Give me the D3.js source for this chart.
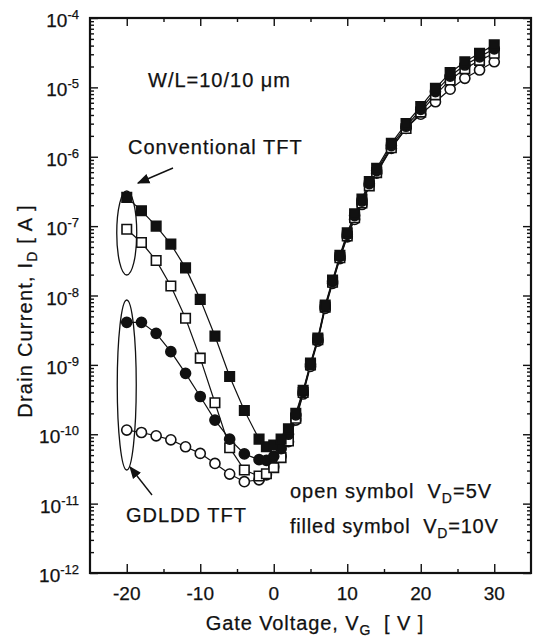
<!DOCTYPE html>
<html>
<head>
<meta charset="utf-8">
<script src="https://cdn.jsdelivr.net/npm/d3@7"></script>
<style>
  body { margin: 0; background: #fff; }
  text { font-family: "Liberation Sans", Arial, sans-serif; fill: #111; stroke: #111; stroke-width: 0.25px; }
</style>
</head>
<body>
<div id="chart"></div>
<script>
// gate voltage sweep (V)
const gateVoltage = [-20, -18, -16, -14, -12, -10, -8, -6, -4, -2, -1, 0, 1, 2, 3, 4, 5, 6, 7, 8, 9, 10, 11, 12, 13, 14, 16, 18, 20, 22, 24, 26, 28, 30];

// drain current (A)
const convVd10 = [2.6e-7, 1.67e-7, 1.0e-7, 5.5e-8, 2.5e-8, 8.8e-9, 2.6e-9, 6.8e-10, 2.2e-10, 8.5e-11, 6.6e-11, 7.0e-11, 8.5e-11, 1.2e-10, 2.0e-10, 4.3e-10, 1.06e-9, 2.44e-9, 7.3e-9, 1.67e-8, 3.8e-8, 8.0e-8, 1.5e-7, 2.46e-7, 4.4e-7, 6.8e-7, 1.56e-6, 3.0e-6, 5.3e-6, 9.7e-6, 1.63e-5, 2.34e-5, 3.1e-5, 4.1e-5];
const convVd5 = [9.0e-8, 5.8e-8, 3.2e-8, 1.37e-8, 4.7e-9, 1.25e-9, 2.85e-10, 6.4e-11, 3.05e-11, 2.5e-11, 2.7e-11, 3.3e-11, 4.6e-11, 8.0e-11, 1.7e-10, 4.0e-10, 1.0e-9, 2.3e-9, 6.8e-9, 1.55e-8, 3.5e-8, 7.2e-8, 1.32e-7, 2.15e-7, 3.8e-7, 5.9e-7, 1.35e-6, 2.55e-6, 4.4e-6, 7.8e-6, 1.28e-5, 1.85e-5, 2.45e-5, 3.1e-5];
const gdlddVd10 = [4.1e-9, 4.1e-9, 2.85e-9, 1.55e-9, 7.55e-10, 3.5e-10, 1.6e-10, 8.5e-11, 5.2e-11, 4.3e-11, 4.2e-11, 4.8e-11, 6.2e-11, 1.0e-10, 1.9e-10, 4.1e-10, 1.02e-9, 2.35e-9, 7.0e-9, 1.6e-8, 3.65e-8, 7.6e-8, 1.42e-7, 2.3e-7, 4.1e-7, 6.3e-7, 1.45e-6, 2.75e-6, 4.8e-6, 8.7e-6, 1.45e-5, 2.1e-5, 2.75e-5, 3.6e-5];
const gdlddVd5 = [1.15e-10, 1.06e-10, 9.5e-11, 8.3e-11, 6.6e-11, 5.3e-11, 3.8e-11, 2.67e-11, 2.07e-11, 2.2e-11, 2.6e-11, 3.4e-11, 4.8e-11, 7.8e-11, 1.6e-10, 3.8e-10, 9.5e-10, 2.2e-9, 6.5e-9, 1.5e-8, 3.4e-8, 7.0e-8, 1.25e-7, 2.05e-7, 3.9e-7, 5.8e-7, 1.32e-6, 2.57e-6, 4.1e-6, 6.2e-6, 9.4e-6, 1.35e-5, 1.78e-5, 2.34e-5];

// axis ticks
const xMajorTicks = [-20, -10, 0, 10, 20, 30];
const xMinorTicks = [-15, -5, 5, 15, 25];
const yExponents = [-12, -11, -10, -9, -8, -7, -6, -5, -4];

const width = 537, height = 639;
const margin = { top: 18, right: 6, bottom: 66, left: 90 };

const svg = d3.select("#chart").append("svg")
  .attr("width", width)
  .attr("height", height);

const x = d3.scaleLinear()
  .domain([-25, 35])
  .range([margin.left, width - margin.right]);

const y = d3.scaleLog()
  .domain([1e-12, 1e-4])
  .range([height - margin.bottom, margin.top]);

const yMajor = yExponents.map(e => Math.pow(10, e));
const yMinor = [];
yExponents.slice(0, -1).forEach(e => {
  for (let k = 2; k <= 9; k++) yMinor.push(k * Math.pow(10, e));
});

// axes (ticks pointing inward, labels drawn separately)
function tickAxis(axis, transform) {
  const g = svg.append("g").attr("transform", transform).call(axis);
  g.select(".domain").remove();
  g.selectAll(".tick line").attr("stroke", "#111").attr("stroke-width", 1.4);
  g.selectAll(".tick text").remove();
}
const bottomY = height - margin.bottom, rightX = width - margin.right;
tickAxis(d3.axisBottom(x).tickValues(xMajorTicks).tickSize(-9), `translate(0,${bottomY})`);
tickAxis(d3.axisBottom(x).tickValues(xMinorTicks).tickSize(-4), `translate(0,${bottomY})`);
tickAxis(d3.axisTop(x).tickValues(xMajorTicks).tickSize(-8), `translate(0,${margin.top})`);
tickAxis(d3.axisTop(x).tickValues(xMinorTicks).tickSize(-4), `translate(0,${margin.top})`);
tickAxis(d3.axisLeft(y).tickValues(yMajor).tickSize(-8), `translate(${margin.left},0)`);
tickAxis(d3.axisLeft(y).tickValues(yMinor).tickSize(-4), `translate(${margin.left},0)`);
tickAxis(d3.axisRight(y).tickValues(yMajor).tickSize(-8), `translate(${rightX},0)`);
tickAxis(d3.axisRight(y).tickValues(yMinor).tickSize(-4), `translate(${rightX},0)`);

// frame
svg.append("rect")
  .attr("x", margin.left).attr("y", margin.top)
  .attr("width", rightX - margin.left).attr("height", bottomY - margin.top)
  .attr("fill", "none").attr("stroke", "#111").attr("stroke-width", 2.2);

// x tick labels
svg.selectAll(".xlab").data(xMajorTicks).enter().append("text")
  .attr("x", d => x(d))
  .attr("y", bottomY + 27)
  .attr("text-anchor", "middle")
  .style("font-size", "19px")
  .text(d => d);

// y tick labels 10^n
const yl = svg.selectAll(".ylab").data(yExponents).enter().append("text")
  .attr("x", 79)
  .attr("y", d => y(Math.pow(10, d)) + 9)
  .attr("text-anchor", "end")
  .style("font-size", "19px");
yl.append("tspan").text("10");
yl.append("tspan").attr("dy", -8).style("font-size", "13px").text(d => d);

// axis titles
const xt = svg.append("text")
  .attr("x", 315).attr("y", 630)
  .attr("text-anchor", "middle")
  .style("font-size", "20px")
  .style("letter-spacing", "0.9px");
xt.append("tspan").text("Gate Voltage, V");
xt.append("tspan").attr("dy", 5).style("font-size", "14px").text("G");
xt.append("tspan").attr("dy", -5).text("  [ V ]").attr("xml:space", "preserve");

const yt = svg.append("text")
  .attr("transform", "translate(32,311) rotate(-90)")
  .attr("text-anchor", "middle")
  .style("font-size", "20px")
  .style("letter-spacing", "1.2px");
yt.append("tspan").text("Drain Current, I");
yt.append("tspan").attr("dy", 5).style("font-size", "14px").text("D");
yt.append("tspan").attr("dy", -5).text(" [ A ]");

// curves
const series = [
  { values: gdlddVd5, shape: "circle", filled: false },
  { values: convVd5, shape: "square", filled: false },
  { values: gdlddVd10, shape: "circle", filled: true },
  { values: convVd10, shape: "square", filled: true }
];

const line = d3.line()
  .x(d => x(d.v))
  .y(d => y(d.i));

series.forEach(s => {
  const pts = gateVoltage.map((v, k) => ({ v: v, i: s.values[k] }));
  svg.append("path")
    .datum(pts)
    .attr("d", line)
    .attr("fill", "none")
    .attr("stroke", "#111")
    .attr("stroke-width", 1.2);
});

series.forEach(s => {
  const pts = gateVoltage.map((v, k) => ({ v: v, i: s.values[k] }));
  const sym = d3.symbol().type(s.shape === "square" ? d3.symbolSquare : d3.symbolCircle)
    .size(s.shape === "square" ? 90 : 80);
  svg.append("g").selectAll("path")
    .data(pts).enter().append("path")
    .attr("transform", d => `translate(${x(d.v)},${y(d.i)})`)
    .attr("d", sym)
    .attr("fill", s.filled ? "#111" : "#fff")
    .attr("stroke", "#111")
    .attr("stroke-width", 1.6);
});

// annotations
svg.append("defs").append("marker")
  .attr("id", "arrow")
  .attr("viewBox", "0 0 10 10")
  .attr("refX", 9).attr("refY", 5)
  .attr("markerWidth", 9).attr("markerHeight", 9)
  .attr("orient", "auto")
  .append("path").attr("d", "M0,1 L10,5 L0,9 Z").attr("fill", "#111");

svg.append("text")
  .attr("x", 148).attr("y", 87)
  .style("font-size", "20px")
  .style("letter-spacing", "1px")
  .text("W/L=10/10 \u03bcm");

svg.append("text")
  .attr("x", 128).attr("y", 154)
  .style("font-size", "20px")
  .style("letter-spacing", "1px")
  .text("Conventional TFT");

svg.append("text")
  .attr("x", 126).attr("y", 522)
  .style("font-size", "20px")
  .style("letter-spacing", "1px")
  .text("GDLDD TFT");

svg.append("ellipse")
  .attr("cx", x(-20)).attr("cy", 233).attr("rx", 10).attr("ry", 42)
  .attr("fill", "none").attr("stroke", "#111").attr("stroke-width", 1.3);
svg.append("ellipse")
  .attr("cx", x(-20)).attr("cy", 385).attr("rx", 9.5).attr("ry", 85)
  .attr("fill", "none").attr("stroke", "#111").attr("stroke-width", 1.3);

svg.append("line")
  .attr("x1", 173).attr("y1", 168).attr("x2", 138).attr("y2", 183)
  .attr("stroke", "#111").attr("stroke-width", 1.4)
  .attr("marker-end", "url(#arrow)");
svg.append("line")
  .attr("x1", 152).attr("y1", 495).attr("x2", 130).attr("y2", 467)
  .attr("stroke", "#111").attr("stroke-width", 1.4)
  .attr("marker-end", "url(#arrow)");

const leg1 = svg.append("text").attr("x", 290).attr("y", 498)
  .style("font-size", "20px").style("letter-spacing", "1px");
leg1.append("tspan").text("open symbol  V").attr("xml:space", "preserve");
leg1.append("tspan").attr("dy", 5).style("font-size", "14px").text("D");
leg1.append("tspan").attr("dy", -5).text("=5V");

const leg2 = svg.append("text").attr("x", 290).attr("y", 533)
  .style("font-size", "20px").style("letter-spacing", "0.8px");
leg2.append("tspan").text("filled symbol  V").attr("xml:space", "preserve");
leg2.append("tspan").attr("dy", 5).style("font-size", "14px").text("D");
leg2.append("tspan").attr("dy", -5).text("=10V");
</script>
</body>
</html>
